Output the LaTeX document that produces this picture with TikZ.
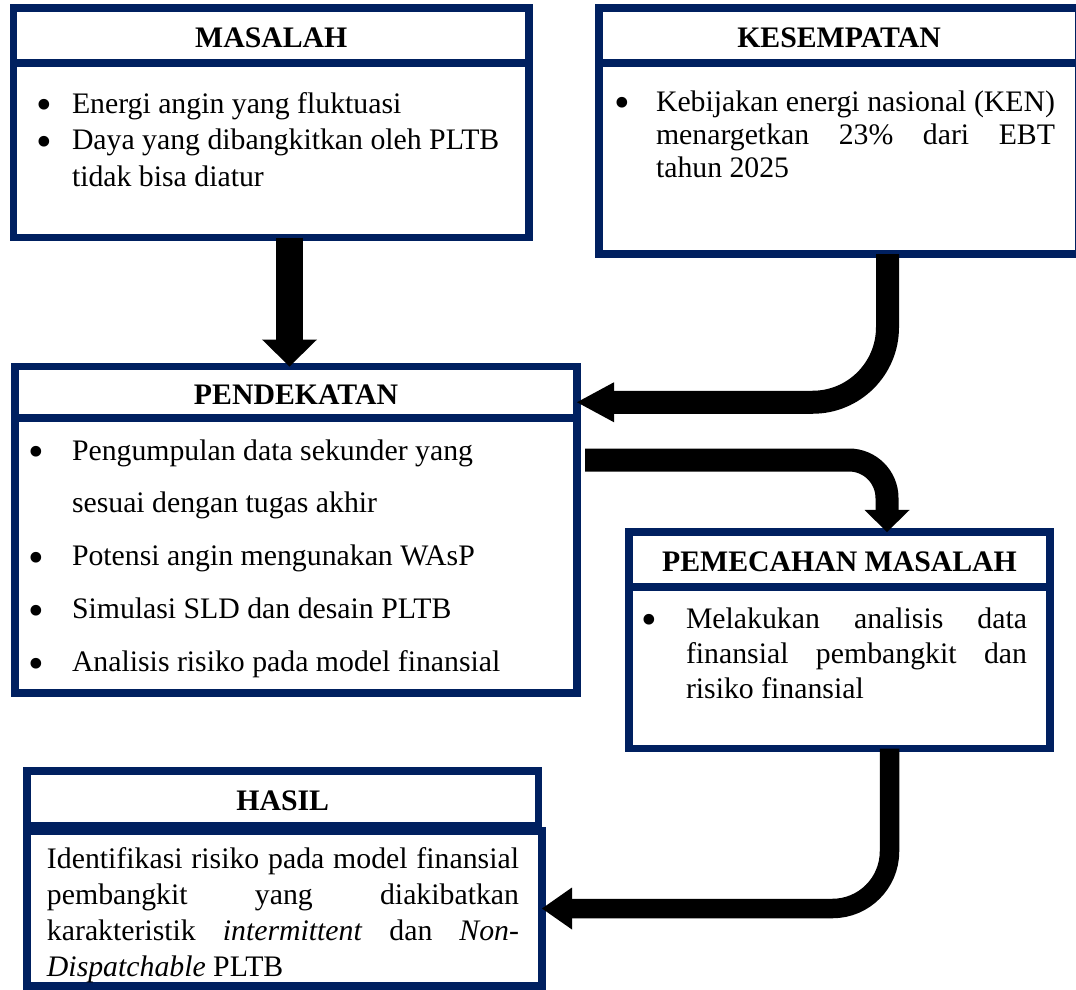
\documentclass[tikz,border=0pt]{standalone}
\usepackage{fontspec}
\usepackage{graphicx}
\setmainfont{Liberation Serif}
\usetikzlibrary{arrows.meta,calc}
\newlength\pxu
\setlength\pxu{0.403pt}
\definecolor{navy}{RGB}{0,32,96}
\newcommand\bul[1]{\makebox[#1][l]{\smash{\raisebox{-2.8pt}{\scalebox{1.5}{\textbullet}}}}}
\tikzset{
  frame/.style={draw=navy, line width=7.5\pxu, inner sep=0pt, outer sep=0pt, anchor=north west, fill=white},
  hd/.style={frame, font=\bfseries\fontsize{12}{14}\selectfont, text height=10pt, text depth=0pt},
  txt/.style={anchor=base west, inner sep=0pt, outer sep=0pt, font=\fontsize{12}{14}\selectfont},
  conn/.style={black, line width=#1},
}
\begin{document}
\begin{tikzpicture}[x=0.403pt, y=-0.403pt]
\useasboundingbox (0,0) rectangle (1076,989);

% ---------- MASALAH ----------
\node[frame, minimum width=515.5\pxu, minimum height=174.5\pxu] (mb) at (13.5,63) {};
\node[hd, minimum width=515.5\pxu, minimum height=55\pxu] (mh) at (13.5,8) {MASALAH};
\node[txt] (mt) at (36,113) {\begin{minipage}[t]{480\pxu}\setlength\baselineskip{36.5\pxu}%
\hbox{\bul{36\pxu}Energi angin yang fluktuasi}
\hbox{\bul{36\pxu}Daya yang dibangkitkan oleh PLTB}
\hbox{\hspace*{36\pxu}tidak bisa diatur}
\end{minipage}};

% ---------- KESEMPATAN ----------
\node[frame, minimum width=480\pxu, minimum height=191\pxu] (kb) at (599,63) {};
\node[hd, minimum width=480\pxu, minimum height=55\pxu] (kh) at (599,8) {KESEMPATAN};
\node[txt] (kt) at (614,111) {\begin{minipage}[t]{450\pxu}\setlength\baselineskip{33\pxu}%
\hbox{\bul{42\pxu}\makebox[399\pxu][s]{Kebijakan energi nasional (KEN)}}
\hbox{\hspace*{42\pxu}\makebox[399\pxu][s]{menargetkan 23\% dari EBT}}
\hbox{\hspace*{42\pxu}tahun 2025}
\end{minipage}};

% ---------- PENDEKATAN ----------
\node[frame, minimum width=562\pxu, minimum height=275\pxu] (pb) at (15,418) {};
\node[hd, minimum width=562\pxu, minimum height=51.5\pxu] (ph) at (15,366.5) {PENDEKATAN};
\node[txt] (pt) at (28,460) {\begin{minipage}[t]{540\pxu}\setlength\baselineskip{52.8\pxu}%
\hbox{\bul{44\pxu}Pengumpulan data sekunder yang}
\hbox{\hspace*{44\pxu}sesuai dengan tugas akhir}
\hbox{\bul{44\pxu}Potensi angin mengunakan WAsP}
\hbox{\bul{44\pxu}Simulasi SLD dan desain PLTB}
\hbox{\bul{44\pxu}Analisis risiko pada model finansial}
\end{minipage}};

% ---------- PEMECAHAN MASALAH ----------
\node[frame, minimum width=421\pxu, minimum height=161.5\pxu] (qb) at (629,587) {};
\node[hd, minimum width=421\pxu, minimum height=55\pxu] (qh) at (629,532) {PEMECAHAN MASALAH};
\node[txt] (qt) at (641,628) {\begin{minipage}[t]{400\pxu}\setlength\baselineskip{35\pxu}%
\hbox{\bul{45\pxu}\makebox[341\pxu][s]{Melakukan analisis data}}
\hbox{\hspace*{45\pxu}\makebox[341\pxu][s]{finansial pembangkit dan}}
\hbox{\hspace*{45\pxu}risiko finansial}
\end{minipage}};

% ---------- HASIL ----------
\node[frame, minimum width=515\pxu, minimum height=155\pxu] (hb) at (27,831) {};
\node[hd, minimum width=511.5\pxu, minimum height=55\pxu] (hh) at (27,771) {HASIL};
\node[txt] (ht) at (47,868) {\begin{minipage}[t]{490\pxu}\setlength\baselineskip{36\pxu}%
\hbox{\makebox[472\pxu][s]{Identifikasi risiko pada model finansial}}
\hbox{\makebox[472\pxu][s]{pembangkit yang diakibatkan}}
\hbox{\makebox[472\pxu][s]{karakteristik \textit{intermittent} dan \textit{Non-}}}
\hbox{\textit{Dispatchable} PLTB}
\end{minipage}};

% ---------- connectors ----------
\coordinate (a1) at (289.5,0);
\coordinate (a2) at (887.5,0);
\coordinate (a3) at (887,0);
\coordinate (a4) at (889.5,0);

\draw[conn=10.88pt, -{Triangle[length=10.88pt, width=22.17pt, line width=0pt]}]
  (mb.south -| a1) -- (ph.north -| a1);

\draw[conn=9.27pt, rounded corners=30.2pt, -{Triangle[length=14.91pt, width=16.12pt, line width=0pt]}]
  (kb.south -| a2) |- ($(ph.east)+(0,10)$);

\draw[conn=9.27pt, rounded corners=15.3pt, -{Triangle[length=8.87pt, width=18.14pt, line width=0pt]}]
  ($(pb.north east)+(8,42)$) -| (qh.north -| a3);

\draw[conn=7.86pt, rounded corners=23pt, -{Triangle[length=12.09pt, width=16.93pt, line width=0pt]}]
  (qb.south -| a4) |- (hb.east);
\end{tikzpicture}
\end{document}
